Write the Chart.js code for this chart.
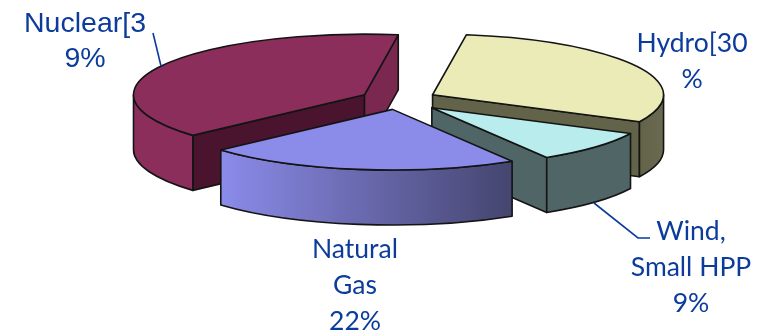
<!DOCTYPE html>
<html>
<head>
<meta charset="utf-8">
<title>Generation mix</title>
<style>
  html, body { margin: 0; padding: 0; background: #fff; }
  canvas { display: block; }
</style>
<script src="https://cdn.jsdelivr.net/npm/chart.js@4/dist/chart.umd.min.js"></script>
</head>
<body>
<canvas id="mix" width="763" height="334"></canvas>
<script>
// Share of generation by source, in percent.
const categories = ['Nuclear', 'Hydro', 'Wind, Small HPP', 'Natural Gas'];
const shares = [39, 30, 9, 22];

// Text of each callout, broken over lines the way it is printed.
const nuclearLabel = ['Nuclear[3', '9%'];
const hydroLabel = ['Hydro[30', '%'];
const windLabel = ['Wind,', 'Small HPP', '9%'];
const gasLabel = ['Natural', 'Gas', '22%'];

// Slice palette.
const topColors = ['#8b2e5c', '#ebebb8', '#b9eded', '#8b8bea'];
const startFaceColors = ['#4a142e', '#63634a', '#506666', '#45456f'];
const endFaceColors = ['#7a2850', '#63634a', '#506666', '#45456f'];
const wallLeft = ['#8b2e5c', '#63634a', '#506666', '#8b8bea'];
const wallRight = ['#8b2e5c', '#6a6a50', '#506666', '#45456f'];
const explode = [38, 39, 46, 38];
const sliceScale = [1, 1, 0.96, 1];

const TILT = 0.2625;      // vertical squash of the pie plane
const DEPTH = 55;         // thickness of the extruded slices
const OUTLINE = '#141414';
const INK = '#0b3c9c';
const LABEL_FONT = 'Lato, "Open Sans", sans-serif';
const NUCLEAR_FONT = '"Liberation Sans", Arial, sans-serif';

function strokeFill(ctx, fill) {
  ctx.fillStyle = fill;
  ctx.fill();
  ctx.stroke();
}

// Extrudes each arc the library laid out: side faces, rim, then the top.
const extrudedPie = {
  id: 'extrudedPie',
  beforeDatasetDraw(chart, args) {
    const { ctx } = chart;
    const meta = chart.getDatasetMeta(args.index);
    ctx.save();
    ctx.strokeStyle = OUTLINE;
    ctx.lineWidth = 1.6;
    ctx.lineJoin = 'round';
    meta.data.forEach((arc, i) => {
      const { x, y, startAngle: a, endAngle: b, outerRadius } =
        arc.getProps(['x', 'y', 'startAngle', 'endAngle', 'outerRadius'], true);
      const r = outerRadius * sliceScale[i];
      const mid = (a + b) / 2;
      const off = arc.options.offset;
      const cx = x + Math.cos(mid) * off;
      const cy = y + Math.sin(mid) * off * TILT;
      const ry = r * TILT;
      const px = t => cx + r * Math.cos(t);
      const py = t => cy + ry * Math.sin(t);

      const face = (t, fill) => {
        ctx.beginPath();
        ctx.moveTo(cx, cy);
        ctx.lineTo(px(t), py(t));
        ctx.lineTo(px(t), py(t) + DEPTH);
        ctx.lineTo(cx, cy + DEPTH);
        ctx.closePath();
        strokeFill(ctx, fill);
      };
      if (Math.cos(a) < 0) face(a, startFaceColors[i]);
      if (Math.cos(b) > 0) face(b, endFaceColors[i]);

      // Rim: only the stretch on the near half of the ellipse shows.
      for (let n = -1; n <= 2; n++) {
        const lo = Math.max(a, n * 2 * Math.PI);
        const hi = Math.min(b, n * 2 * Math.PI + Math.PI);
        if (hi <= lo) continue;
        const grad = ctx.createLinearGradient(px(hi), 0, px(lo), 0);
        grad.addColorStop(0, wallLeft[i]);
        grad.addColorStop(1, wallRight[i]);
        ctx.beginPath();
        ctx.ellipse(cx, cy, r, ry, 0, lo, hi);
        ctx.lineTo(px(hi), py(hi) + DEPTH);
        ctx.ellipse(cx, cy + DEPTH, r, ry, 0, hi, lo, true);
        ctx.closePath();
        strokeFill(ctx, grad);
      }

      ctx.beginPath();
      ctx.moveTo(cx, cy);
      ctx.ellipse(cx, cy, r, ry, 0, a, b);
      ctx.closePath();
      strokeFill(ctx, topColors[i]);
    });
    ctx.restore();
    return false;
  }
};

// Callout text and leader lines.
const callouts = {
  id: 'callouts',
  afterDraw(chart) {
    const { ctx } = chart;
    ctx.save();
    ctx.fillStyle = INK;
    ctx.strokeStyle = INK;
    ctx.lineWidth = 1.6;
    ctx.textAlign = 'center';
    ctx.textBaseline = 'alphabetic';
    const block = (lines, x, y, step, font) => {
      ctx.font = font;
      lines.forEach((s, n) => ctx.fillText(s, x, y + n * step));
    };
    block(nuclearLabel, 85, 32, 35, '28.5px ' + NUCLEAR_FONT);
    block(hydroLabel, 692, 52, 36, '26.5px ' + LABEL_FONT);
    block(windLabel, 691, 240, 36, '26.5px ' + LABEL_FONT);
    block(gasLabel, 355, 258, 36, '26.5px ' + LABEL_FONT);
    const leader = pts => {
      ctx.beginPath();
      pts.forEach((p, n) => n ? ctx.lineTo(p[0], p[1]) : ctx.moveTo(p[0], p[1]));
      ctx.stroke();
    };
    leader([[153, 33], [161, 66]]);
    leader([[594, 203], [638, 238], [650, 238]]);
    ctx.restore();
  }
};

new Chart(document.getElementById('mix'), {
  type: 'pie',
  data: {
    labels: categories,
    datasets: [{ data: shares, offset: explode, borderWidth: 0 }]
  },
  options: {
    responsive: false,
    animation: false,
    radius: 231,
    rotation: 228,
    layout: { padding: { left: 33, bottom: 135 } },
    plugins: { legend: { display: false }, tooltip: { enabled: false } }
  },
  plugins: [extrudedPie, callouts]
});
</script>
</body>
</html>
